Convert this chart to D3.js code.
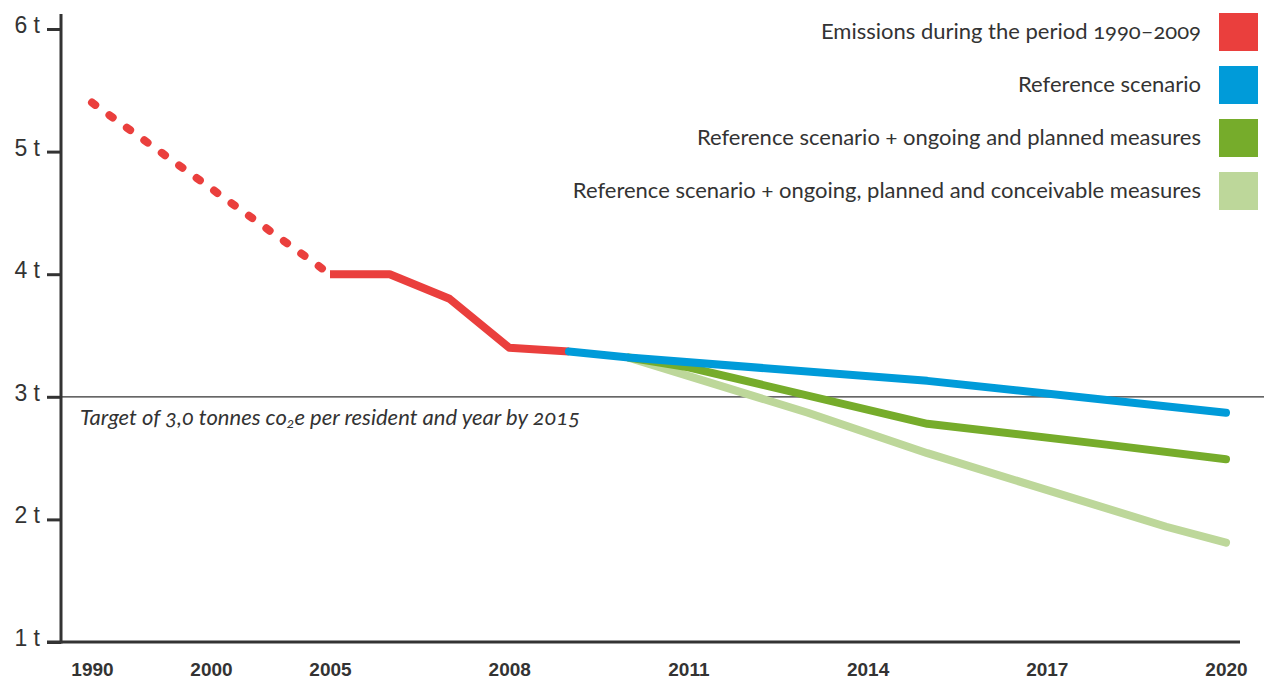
<!DOCTYPE html>
<html>
<head>
<meta charset="utf-8">
<script src="https://cdn.jsdelivr.net/npm/d3@7"></script>
<style>
  body { margin: 0; background: #fff; }
  svg { display: block; font-family: Lato, "Open Sans", sans-serif; font-variant-numeric: oldstyle-nums; }
</style>
</head>
<body>
<script>
// emissions per resident, tonnes co2e
const histYears = [1990, 2005, 2006, 2007, 2008, 2009];
const histValues = [5.4, 4.0, 4.0, 3.8, 3.4, 3.37];

const refYears = [2009, 2010, 2015, 2020];
const refValues = [3.37, 3.32, 3.13, 2.87];

const plannedYears = [2010, 2011, 2015, 2018, 2020];
const plannedValues = [3.32, 3.24, 2.78, 2.61, 2.49];

const conceivYears = [2010, 2013, 2015, 2019, 2020];
const conceivValues = [3.32, 2.87, 2.54, 1.94, 1.81];

const xTicks = [1990, 2000, 2005, 2008, 2011, 2014, 2017, 2020];
const yTicks = [1, 2, 3, 4, 5, 6];
const target = 3.0;

const legendLabels = [
    "Emissions during the period 1990–2009",
    "Reference scenario",
    "Reference scenario + ongoing and planned measures",
    "Reference scenario + ongoing, planned and conceivable measures"
];
const colors = ["#ea3f3d", "#009bd9", "#76ac2b", "#bdd79a"];

const width = 1264, height = 684;
const svg = d3.select("body").append("svg")
    .attr("width", width).attr("height", height);

// the time axis is compressed before 2005
const x = d3.scaleLinear().domain([1990, 2000, 2005, 2020]).range([92, 211, 330, 1226]);
const y = d3.scaleLinear().domain([1, 6]).range([642, 29]);

const ink = "#333";

// y axis
const yAxis = svg.append("g")
    .attr("transform", "translate(61,0)")
    .call(d3.axisLeft(y).tickValues(yTicks).tickFormat(d => d + " t").tickSize(14).tickPadding(7));
yAxis.select(".domain").remove();
yAxis.selectAll(".tick line").attr("stroke", ink).attr("stroke-width", 3);
yAxis.selectAll(".tick text")
    .attr("fill", ink).attr("font-size", 23).attr("dy", "0.15em");

svg.append("line")
    .attr("x1", 61).attr("x2", 61).attr("y1", 14).attr("y2", y(1) + 1.5)
    .attr("stroke", ink).attr("stroke-width", 3);

// x axis
const xAxis = svg.append("g")
    .attr("transform", `translate(0,${y(1)})`)
    .call(d3.axisBottom(x).tickValues(xTicks).tickFormat(d3.format("d")).tickSize(0).tickPadding(21));
xAxis.select(".domain").remove();
xAxis.selectAll(".tick text")
    .attr("fill", ink).attr("font-size", 19).attr("font-weight", 600);

svg.append("line")
    .attr("x1", 47).attr("x2", 1240).attr("y1", y(1)).attr("y2", y(1))
    .attr("stroke", ink).attr("stroke-width", 3);

// target line
svg.append("line")
    .attr("x1", 61).attr("x2", width).attr("y1", y(target)).attr("y2", y(target))
    .attr("stroke", ink).attr("stroke-width", 1.3);

const note = svg.append("text")
    .attr("x", 80).attr("y", y(target) + 28)
    .attr("fill", ink).attr("font-size", 22).attr("font-style", "italic");
note.append("tspan").text("Target of 3,0 tonnes co");
note.append("tspan").attr("font-size", 14).attr("dy", 3).text("2");
note.append("tspan").attr("dy", -3).text("e per resident and year by 2015");

// series
const line = d3.line().x(d => x(d[0])).y(d => y(d[1]));
const pairs = (ys, vs) => ys.map((yr, i) => [yr, vs[i]]);

const hist = pairs(histYears, histValues);
const lines = svg.append("g").attr("fill", "none").attr("stroke-width", 8)
    .attr("stroke-linecap", "round").attr("stroke-linejoin", "round");

lines.append("path").attr("d", line(hist.slice(0, 2)))
    .attr("stroke", colors[0]).attr("stroke-dasharray", "4 17.5");
lines.append("path").attr("d", line(hist.slice(1)))
    .attr("stroke", colors[0]).attr("stroke-linecap", "butt");
lines.append("path").attr("d", line(pairs(conceivYears, conceivValues))).attr("stroke", colors[3]);
lines.append("path").attr("d", line(pairs(plannedYears, plannedValues))).attr("stroke", colors[2]);
lines.append("path").attr("d", line(pairs(refYears, refValues))).attr("stroke", colors[1]);

// legend
const legend = svg.append("g").selectAll("g")
    .data(legendLabels)
    .join("g")
    .attr("transform", (d, i) => `translate(0,${13 + i * 53})`);
legend.append("rect")
    .attr("x", 1219).attr("width", 39).attr("height", 38)
    .attr("fill", (d, i) => colors[i]);
legend.append("text")
    .attr("x", 1201).attr("y", 26)
    .attr("text-anchor", "end").attr("fill", ink).attr("font-size", 22)
    .text(d => d);
</script>
</body>
</html>
